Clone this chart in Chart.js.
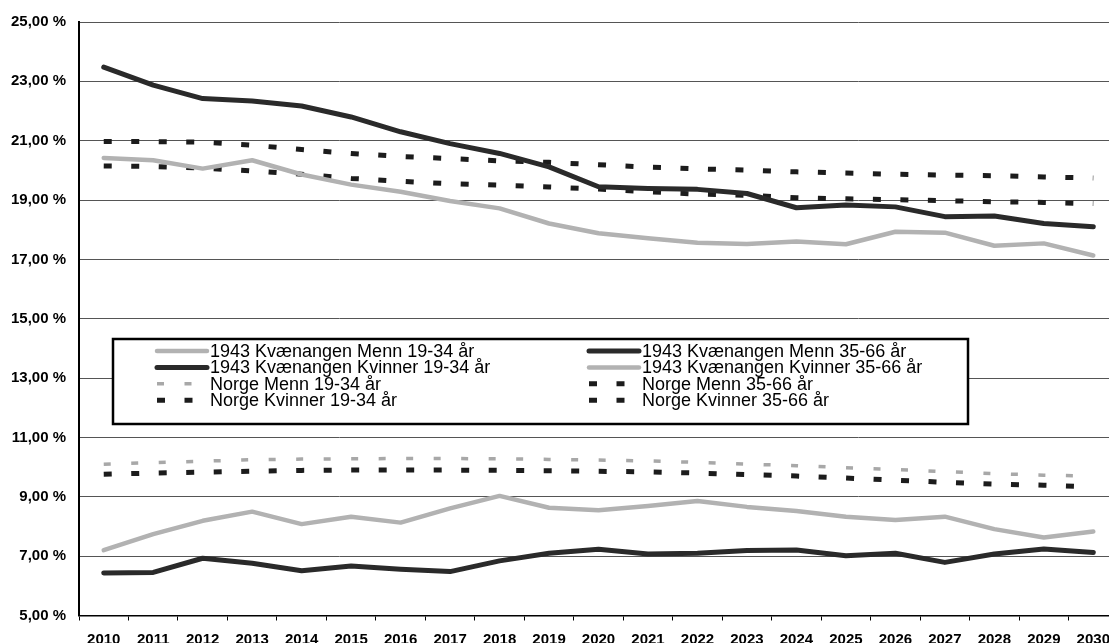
<!DOCTYPE html>
<html>
<head>
<meta charset="utf-8">
<script src="https://cdn.jsdelivr.net/npm/chart.js@4.4.1/dist/chart.umd.min.js"></script>
<style>
html,body{margin:0;padding:0;background:#fff;overflow:hidden;}
#wrap{width:1120px;height:643px;}
</style>
</head>
<body>
<div id="wrap"><canvas id="c" width="1120" height="643"></canvas></div>
<script>
const years = ['2010','2011','2012','2013','2014','2015','2016','2017','2018','2019','2020','2021','2022','2023','2024','2025','2026','2027','2028','2029','2030'];
const yTicks = [5, 7, 9, 11, 13, 15, 17, 19, 21, 23, 25];

const kvMenn1934    = [7.20, 7.74, 8.19, 8.50, 8.08, 8.33, 8.13, 8.61, 9.03, 8.63, 8.55, 8.69, 8.86, 8.66, 8.52, 8.33, 8.22, 8.33, 7.91, 7.63, 7.83];
const kvKvinner1934 = [6.43, 6.45, 6.93, 6.76, 6.51, 6.67, 6.56, 6.48, 6.84, 7.10, 7.23, 7.07, 7.10, 7.19, 7.21, 7.01, 7.10, 6.79, 7.07, 7.24, 7.12];
const kvMenn3566    = [23.48, 22.87, 22.42, 22.34, 22.17, 21.80, 21.30, 20.90, 20.57, 20.12, 19.45, 19.39, 19.36, 19.22, 18.74, 18.83, 18.77, 18.44, 18.46, 18.21, 18.10];
const kvKvinner3566 = [20.42, 20.34, 20.06, 20.34, 19.86, 19.52, 19.28, 18.97, 18.72, 18.21, 17.88, 17.71, 17.56, 17.52, 17.60, 17.51, 17.93, 17.90, 17.46, 17.54, 17.13];
const noMenn1934    = [10.10, 10.15, 10.20, 10.25, 10.27, 10.28, 10.29, 10.29, 10.28, 10.26, 10.24, 10.21, 10.16, 10.10, 10.05, 9.98, 9.92, 9.85, 9.78, 9.73, 9.70];
const noKvinner1934 = [9.76, 9.80, 9.83, 9.86, 9.89, 9.90, 9.90, 9.90, 9.89, 9.88, 9.86, 9.84, 9.80, 9.75, 9.70, 9.63, 9.56, 9.49, 9.43, 9.39, 9.34];
const noMenn3566    = [20.97, 20.97, 20.95, 20.85, 20.70, 20.57, 20.47, 20.40, 20.32, 20.27, 20.19, 20.11, 20.05, 20.01, 19.95, 19.91, 19.87, 19.84, 19.82, 19.78, 19.74];
const noKvinner3566 = [20.15, 20.13, 20.08, 19.98, 19.87, 19.73, 19.63, 19.55, 19.50, 19.44, 19.37, 19.28, 19.20, 19.16, 19.08, 19.04, 19.01, 18.98, 18.94, 18.92, 18.88];

const FONT = "'Liberation Sans', Arial, sans-serif";
const DARK = '#2a2a2a';
const LIGHT = '#b2b2b2';

function ds(label, data, color, width, dash) {
  return {
    label, data,
    borderColor: color,
    backgroundColor: color,
    borderWidth: width,
    borderDash: dash || [],
    borderCapStyle: dash ? 'butt' : 'round',
    borderJoinStyle: 'round',
    pointRadius: 0,
    pointHoverRadius: 0,
    tension: 0,
    fill: false
  };
}

const datasets = [
  ds('1943 Kvænangen Menn 19-34 år', kvMenn1934, LIGHT, 4.5),
  ds('1943 Kvænangen Menn 35-66 år', kvMenn3566, DARK, 5),
  ds('1943 Kvænangen Kvinner 19-34 år', kvKvinner1934, DARK, 5),
  ds('1943 Kvænangen Kvinner 35-66 år', kvKvinner3566, LIGHT, 4.5),
  ds('Norge Menn 19-34 år', noMenn1934, '#a8a8a8', 3.5, [7, 20.5]),
  ds('Norge Menn 35-66 år', noMenn3566, '#1c1c1c', 5, [8, 19.5]),
  ds('Norge Kvinner 19-34 år', noKvinner1934, '#1c1c1c', 5, [8, 19.5]),
  ds('Norge Kvinner 35-66 år', noKvinner3566, '#1c1c1c', 5, [8, 19.5])
];

const legendBox = {
  id: 'legendBox',
  afterDatasetsDraw(chart) {
    const ctx = chart.ctx;
    const L = 113, T = 339, R = 968, B = 424;
    ctx.save();
    ctx.fillStyle = '#fff';
    ctx.fillRect(L, T, R - L, B - T);
    ctx.lineWidth = 2.5;
    ctx.strokeStyle = '#000';
    ctx.setLineDash([]);
    ctx.strokeRect(L, T, R - L, B - T);
    const cols = [157, 589];
    const rowY0 = 351, rowH = 16.4;
    ctx.font = '18px ' + FONT;
    ctx.textBaseline = 'middle';
    ctx.fillStyle = '#000';
    chart.data.datasets.forEach((d, i) => {
      const col = i % 2, row = Math.floor(i / 2);
      const x0 = cols[col], y = rowY0 + row * rowH;
      ctx.beginPath();
      ctx.setLineDash(d.borderDash || []);
      ctx.lineDashOffset = 0;
      ctx.lineWidth = d.borderWidth;
      ctx.strokeStyle = d.borderColor;
      ctx.lineCap = d.borderDash && d.borderDash.length ? 'butt' : 'round';
      ctx.moveTo(x0, y);
      ctx.lineTo(x0 + 50, y);
      ctx.stroke();
      ctx.setLineDash([]);
      ctx.fillText(d.label, x0 + 53, y + 1);
    });
    ctx.restore();
  }
};

new Chart(document.getElementById('c'), {
  type: 'line',
  data: { labels: years, datasets },
  options: {
    responsive: false,
    devicePixelRatio: 1,
    animation: false,
    layout: { padding: { top: 20, right: 1, left: 0, bottom: 0 } },
    plugins: {
      legend: { display: false },
      title: { display: false },
      tooltip: { enabled: false }
    },
    scales: {
      x: {
        type: 'category',
        offset: true,
        afterFit(s) { s.height = 27.5; },
        grid: { offset: true, drawOnChartArea: false, drawTicks: true, tickLength: 5, color: '#000', lineWidth: 1 },
        border: { display: true, color: '#000', width: 1.5 },
        ticks: { color: '#000', font: { family: FONT, size: 15, weight: 'bold' }, padding: 10, maxRotation: 0, autoSkip: false }
      },
      y: {
        min: 5, max: 25,
        afterFit(s) { s.width = 79; },
        afterBuildTicks(s) { s.ticks = yTicks.map(v => ({ value: v })); },
        grid: { drawTicks: false, color: '#555', lineWidth: 1 },
        border: { display: true, color: '#000', width: 2 },
        ticks: {
          color: '#000', padding: 13,
          font: { family: FONT, size: 15, weight: 'bold' },
          callback: v => v.toFixed(2).replace('.', ',') + ' %'
        }
      }
    }
  },
  plugins: [legendBox]
});
</script>
</body>
</html>
